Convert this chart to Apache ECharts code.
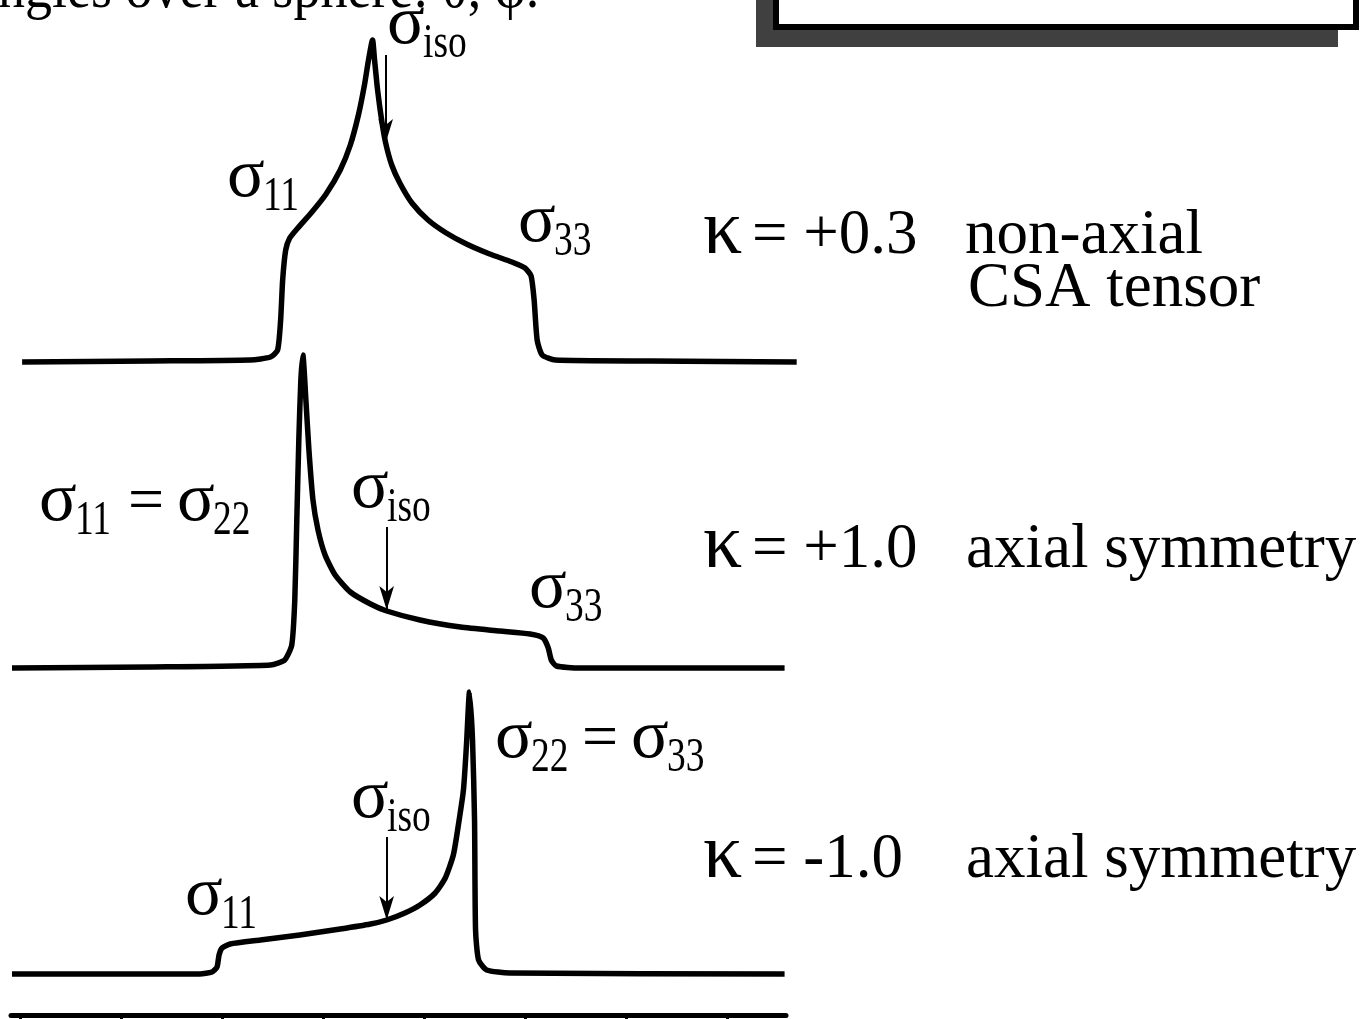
<!DOCTYPE html>
<html>
<head>
<meta charset="utf-8">
<script src="https://cdn.jsdelivr.net/npm/echarts/dist/echarts.min.js"></script>
<style>
  html, body { margin: 0; padding: 0; background: #fff; }
  #chart { width: 1360px; height: 1019px; }
</style>
</head>
<body>
<div id="chart"></div>
<script>
// chemical shift axis (arbitrary units, one tick per unit), intensity in a.u.
const tickValues = [0, 1, 2, 3, 4, 5, 6, 7];

// kappa = +0.3, non-axial tensor
const nonAxialX = [0.02, 1.29, 2.28, 2.48, 2.55, 2.58, 2.60, 2.63, 2.67, 2.75, 2.89, 3.03, 3.17, 3.27, 3.35, 3.41, 3.45, 3.49,
	3.51, 3.54, 3.58, 3.62, 3.68, 3.76, 3.88, 4.04, 4.22, 4.42, 4.65, 4.87, 5.00, 5.06, 5.09, 5.12, 5.17, 5.30, 6.24, 7.69];
const nonAxialY = [0, 0.01, 0.02, 0.05, 0.12, 0.42, 0.82, 1.12, 1.24, 1.34, 1.50, 1.68, 1.92, 2.17, 2.47, 2.77, 3.02, 3.22,
	3.02, 2.72, 2.42, 2.19, 1.97, 1.79, 1.59, 1.42, 1.29, 1.18, 1.08, 1.00, 0.94, 0.86, 0.62, 0.22, 0.07, 0.02, 0.01, 0];

// kappa = +1.0, axial symmetry
const axialPosX = [-0.08, 1.29, 2.48, 2.62, 2.69, 2.72, 2.74, 2.76, 2.78, 2.80, 2.83, 2.86, 2.90, 2.95, 3.02, 3.12, 3.27,
	3.47, 3.63, 3.96, 4.36, 4.75, 5.05, 5.18, 5.23, 5.26, 5.31, 5.54, 7.57];
const axialPosY = [0, 0.01, 0.03, 0.08, 0.23, 0.68, 1.48, 2.28, 2.88, 3.13, 2.68, 2.18, 1.68, 1.38, 1.13, 0.93, 0.76,
	0.64, 0.57, 0.48, 0.41, 0.37, 0.34, 0.30, 0.20, 0.08, 0.02, 0, 0];

// kappa = -1.0, axial symmetry
const axialNegX = [-0.08, 1.78, 1.90, 1.95, 1.97, 2.00, 2.08, 2.38, 2.77, 3.17, 3.47, 3.63, 3.81, 3.96, 4.11, 4.21, 4.29,
	4.34, 4.39, 4.42, 4.45, 4.48, 4.50, 4.51, 4.54, 4.62, 4.85, 7.57];
const axialNegY = [0, 0, 0.02, 0.07, 0.19, 0.26, 0.30, 0.34, 0.39, 0.45, 0.50, 0.54, 0.61, 0.69, 0.81, 0.96, 1.19,
	1.49, 1.84, 2.29, 2.82, 2.34, 1.54, 0.44, 0.14, 0.04, 0.01, 0];

// sigma_iso arrows: [x, arrow start, arrow tip]
const isoArrows = [[3.62, 3.07, 2.19], [3.63, 1.41, 0.58], [3.63, 1.37, 0.54]];

const kappaValues = ["= +0.3", "= +1.0", "= -1.0"];

const FONT = '"Liberation Serif", "Times New Roman", serif';

function zip(xs, ys) {
	return xs.map((x, i) => [x, ys[i]]);
}

// text placed by its baseline
function txt(x, base, str, size, extra) {
	return Object.assign({
		type: "text",
		x: x,
		y: base - 0.305 * size,
		silent: true,
		style: {
			text: str,
			x: 0,
			y: 0,
			font: size + "px " + FONT,
			fill: "#000",
			textAlign: "left",
			textVerticalAlign: "middle",
			align: "left",
			verticalAlign: "middle",
		},
	}, extra || {});
}

// sigma with a narrow subscript
function sig(x, base, sub) {
	return [
		txt(x, base, "σ", 70),
		txt(x + 36, base + 13, sub, 48, { scaleX: 0.78 }),
	];
}

const chart = echarts.init(document.getElementById("chart"), null, { renderer: "canvas" });

const grids = [
	{ left: 11, right: 563, top: 32, height: 330 },
	{ left: 11, right: 574, top: 338, height: 330 },
	{ left: 11, right: 574, top: 644, height: 330 },
	{ left: 11, right: 574, top: 1000, height: 15 },
];

const hidden = { show: false };
const xAxes = [
	{ gridIndex: 0, type: "value", min: -0.09, max: 7.693, show: false },
	{ gridIndex: 1, type: "value", min: -0.09, max: 7.584, show: false },
	{ gridIndex: 2, type: "value", min: -0.09, max: 7.584, show: false },
	{
		gridIndex: 3,
		type: "value",
		min: -0.09,
		max: 7.584,
		position: "bottom",
		axisLine: { show: true, lineStyle: { color: "#000", width: 5 } },
		axisTick: { show: true, customValues: tickValues, length: 10, lineStyle: { color: "#000", width: 3 } },
		axisLabel: hidden,
		splitLine: hidden,
	},
];

const yAxes = [0, 1, 2, 3].map((i) => ({ gridIndex: i, type: "value", min: 0, max: 3.3, show: false }));

const curves = [zip(nonAxialX, nonAxialY), zip(axialPosX, axialPosY), zip(axialNegX, axialNegY)];

const series = curves.map((data, i) => ({
	type: "line",
	xAxisIndex: i,
	yAxisIndex: i,
	data: data,
	showSymbol: false,
	smooth: 0.2,
	clip: false,
	lineStyle: { color: "#000", width: 5.5, join: "round" },
	markLine: {
		silent: true,
		symbol: ["none", "arrow"],
		symbolSize: [11, 24],
		label: { show: false },
		lineStyle: { color: "#000", width: 2, type: "solid" },
		data: [[
			{ coord: [isoArrows[i][0], isoArrows[i][1]] },
			{ coord: [isoArrows[i][0], isoArrows[i][2]] },
		]],
	},
}));

function kappa(base, value) {
	return [txt(703, base, "κ", 78), txt(752, base, value, 63)];
}

const graphic = [
	// framed title box, cut at the top of the picture
	{ type: "rect", silent: true, shape: { x: 756, y: -20, width: 582, height: 67 }, style: { fill: "#404040" } },
	{ type: "rect", silent: true, shape: { x: 776, y: -20, width: 580, height: 47 }, style: { fill: "#fff", stroke: "#000", lineWidth: 6 } },
	txt(-26, 10, "angles over a sphere: θ, φ.", 60, { scaleX: 0.9 }),

	// top spectrum
	...sig(387, 46, "iso"),
	...sig(227, 199, "11"),
	...sig(518, 244, "33"),
	...kappa(256, kappaValues[0]),
	txt(965, 256, "non-axial", 63),
	txt(968, 309, "CSA tensor", 63),

	// middle spectrum
	...sig(39, 523, "11"),
	txt(128, 523, "=", 64),
	...sig(177, 523, "22"),
	...sig(351, 510, "iso"),
	...sig(529, 610, "33"),
	...kappa(570, kappaValues[1]),
	txt(966, 570, "axial symmetry", 63),

	// bottom spectrum
	...sig(495, 760, "22"),
	txt(582, 760, "=", 64),
	...sig(631, 760, "33"),
	...sig(351, 820, "iso"),
	...sig(185, 917, "11"),
	...kappa(880, kappaValues[2]),
	txt(966, 880, "axial symmetry", 63),
];

chart.setOption({
	animation: false,
	backgroundColor: "#fff",
	grid: grids,
	xAxis: xAxes,
	yAxis: yAxes,
	series: series,
	graphic: graphic,
});
</script>
</body>
</html>
